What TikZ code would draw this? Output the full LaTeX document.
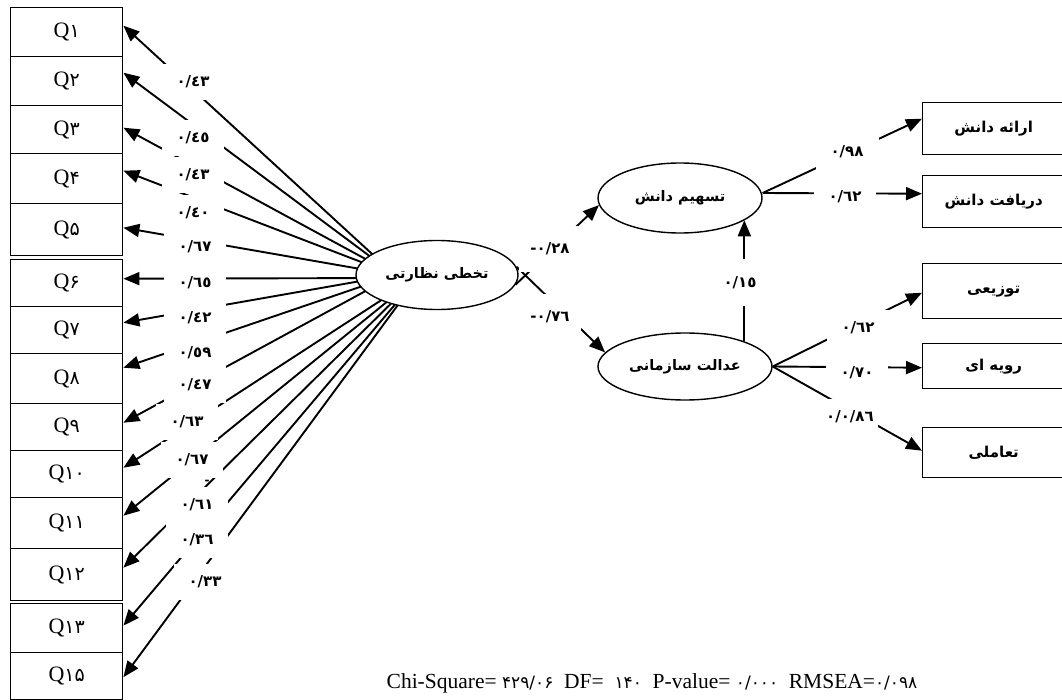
\documentclass[tikz,border=0pt]{standalone}
\usepackage{fontspec}
\setmainfont{Liberation Serif}
\newfontfamily\arabicfont[Script=Arabic]{DejaVu Sans}
\newfontfamily\arabicbold[Script=Arabic]{DejaVu Sans Bold}
\TeXXeTstate=1
\usetikzlibrary{arrows.meta,shapes.geometric,backgrounds}
\newcommand\pdig[1]{{\arabicfont\fontsize{19}{19}\selectfont #1}}
\newcommand\pdsm[1]{{\arabicfont\fontsize{17}{17}\selectfont #1}}
\newcommand\artx[1]{{\arabicbold\fontsize{14.5}{14.5}\selectfont\beginR #1\endR}}
\newcommand\artb[1]{{\arabicbold\fontsize{15}{15}\selectfont\beginR #1\endR}}
\begin{document}
\begin{tikzpicture}[x=1pt,y=-1pt,
  qbox/.style={draw,line width=1.4pt,minimum width=112pt,inner sep=0pt,anchor=north west,font=\fontsize{22}{22}\selectfont},
  rbox/.style={draw,line width=1.4pt,minimum width=142pt,inner sep=0pt,anchor=north west},
  ell/.style={draw,ellipse,line width=1.4pt,fill=white,inner sep=0pt},
  lab/.style={fill=white,inner sep=0pt,minimum width=62pt,minimum height=36pt,font=\arabicbold\fontsize{15}{15}\selectfont},
  arr/.style={line width=1.9pt,-{Triangle[length=16pt,width=13pt]}}]
\useasboundingbox (0,0) rectangle (1062,700);
% left boxes
\node[qbox,minimum height=49pt] (q1) at (10,7) {Q\pdig{۱}};
\node[qbox,minimum height=49pt] (q2) at (10,56) {Q\pdig{۲}};
\node[qbox,minimum height=48pt] (q3) at (10,105) {Q\pdig{۳}};
\node[qbox,minimum height=50pt] (q4) at (10,153) {Q\pdig{۴}};
\node[qbox,minimum height=52pt] (q5) at (10,203) {Q\pdig{۵}};
\node[qbox,minimum height=47pt] (q6) at (10,259) {Q\pdig{۶}};
\node[qbox,minimum height=47pt] (q7) at (10,306) {Q\pdig{۷}};
\node[qbox,minimum height=50pt] (q8) at (10,353) {Q\pdig{۸}};
\node[qbox,minimum height=47pt] (q9) at (10,403) {Q\pdig{۹}};
\node[qbox,minimum height=47pt] (q10) at (10,450) {Q\pdig{۱۰}};
\node[qbox,minimum height=51pt] (q11) at (10,497) {Q\pdig{۱۱}};
\node[qbox,minimum height=52pt] (q12) at (10,548) {Q\pdig{۱۲}};
\node[qbox,minimum height=49pt] (q13) at (10,603) {Q\pdig{۱۳}};
\node[qbox,minimum height=47pt] (q15) at (10,652) {Q\pdig{۱۵}};
% ellipses
\node[ell,minimum width=162pt,minimum height=69pt] (takh) at (437,275) {\artx{تخطی نظارتی}};
\node[ell,minimum width=164pt,minimum height=70pt] (tash) at (680,198) {\artx{تسهیم دانش}};
\node[ell,minimum width=174pt,minimum height=67pt] (adal) at (685,366.5) {\artx{عدالت سازمانی}};
% right boxes
\node[rbox,minimum height=52pt] (arae) at (922,102) {\artb{ارائه دانش}};
\node[rbox,minimum height=52pt] (dary) at (922,175) {\artb{دریافت دانش}};
\node[rbox,minimum height=55pt] (tozi) at (922,263) {\artb{توزیعی}};
\node[rbox,minimum height=45pt] (rav) at (922,343) {\artb{رویه ای}};
\node[rbox,minimum height=50pt] (taam) at (922,427) {\artb{تعاملی}};
% labels
\node[lab] (l1) at (193,82) {٠/٤٣};
\node[lab] (l2) at (193,138) {٠/٤٥};
\node[lab] (l3) at (193,175) {٠/٤٣};
\node[lab] (l4) at (193,213) {٠/٤٠};
\node[lab] (l5) at (195,247) {٠/٦٧};
\node[lab] (l6) at (195,283) {٠/٦٥};
\node[lab] (l7) at (195,318) {٠/٤٢};
\node[lab] (l8) at (195,353) {٠/٥٩};
\node[lab] (l9) at (195,385) {٠/٤٧};
\node[lab] (l10) at (187,422) {٠/٦٣};
\node[lab] (l11) at (192,460) {٠/٦٧};
\node[lab] (l12) at (197,505) {٠/٦١};
\node[lab] (l13) at (197,540) {٠/٣٦};
\node[lab] (l14) at (205,582) {٠/٣٣};
\node[lab,minimum height=46pt] (m1) at (550,249) {\mbox{-}\mbox{٠/٢٨}};
\node[lab,minimum height=46pt] (m2) at (550,317) {\mbox{-}\mbox{٠/٧٦}};
\node[lab,minimum height=47pt,minimum width=40pt] (m3) at (740,283) {٠/١٥};
\node[lab,minimum width=63pt] (r1) at (847,152) {٠/٩٨};
\node[lab] (r2) at (845,197) {٠/٦٢};
\node[lab] (r3) at (858,328) {٠/٦٢};
\node[lab] (r4) at (857,373) {٠/٧٠};
\node[lab,minimum width=56pt] (r5) at (850,417) {٠/٠/٨٦};
\node[font=\arabicbold\fontsize{12}{12}\selectfont,inner sep=0pt] (dash) at (207,482) {-};
% fit line
\node[font=\fontsize{21.5}{21.5}\selectfont,inner sep=0pt] (fit) at (652,683) {Chi-Square= \pdsm{۴۲۹/۰۶}\ \ DF= \ \pdsm{۱۴۰}\ \ P-value= \pdsm{۰/۰۰۰}\ \ RMSEA=\pdsm{۰/۰۹۸}};
% connectors
\begin{scope}[on background layer]
\draw[arr] ([xshift=-42pt]takh.center) -- ([yshift=6.5pt]q1.east);
\draw[arr] ([xshift=-42pt]takh.center) -- ([yshift=8.5pt]q2.east);
\draw[arr] ([xshift=-42pt]takh.center) -- ([yshift=2pt]q3.east);
\draw[arr] ([xshift=-42pt]takh.center) -- ([yshift=8pt]q4.east);
\draw[arr] ([xshift=-42pt]takh.center) -- ([yshift=2pt]q5.east);
\draw[arr] ([xshift=-42pt,yshift=-3pt]takh.center) -- ([yshift=4.5pt]q6.east);
\draw[arr] ([xshift=-42pt]takh.center) -- ([yshift=7.5pt]q7.east);
\draw[arr] ([xshift=-42pt]takh.center) -- ([yshift=11pt]q8.east);
\draw[arr] ([xshift=-42pt]takh.center) -- ([yshift=4.5pt]q9.east);
\draw[arr] ([xshift=-17pt]takh.center) -- ([yshift=6.5pt]q10.east);
\draw[arr] ([xshift=-17pt]takh.center) -- ([yshift=7.5pt]q11.east);
\draw[arr] ([xshift=-17pt]takh.center) -- ([yshift=7pt]q12.east);
\draw[arr] ([xshift=-17pt]takh.center) -- ([yshift=2.5pt]q13.east);
\draw[arr] ([xshift=-17pt]takh.center) -- ([yshift=-1pt]q15.east);
\draw[arr] (takh.-7) -- (tash.185);
\draw[arr] (takh.6) -- (adal.170);
\draw[arr] (adal.23.3) -- (adal.23.3 |- tash.-19.6);
\draw[arr] ([yshift=5pt]tash.east) -- ([yshift=10pt]arae.west);
\draw[arr] ([yshift=5pt]tash.east) -- ([yshift=8pt]dary.west);
\draw[arr] (adal.east) -- ([yshift=-1.5pt]tozi.west);
\draw[arr] (adal.east) -- ([yshift=-1.5pt]rav.west);
\draw[arr] (adal.east) -- ([yshift=2pt]taam.west);
\end{scope}
\end{tikzpicture}
\end{document}
